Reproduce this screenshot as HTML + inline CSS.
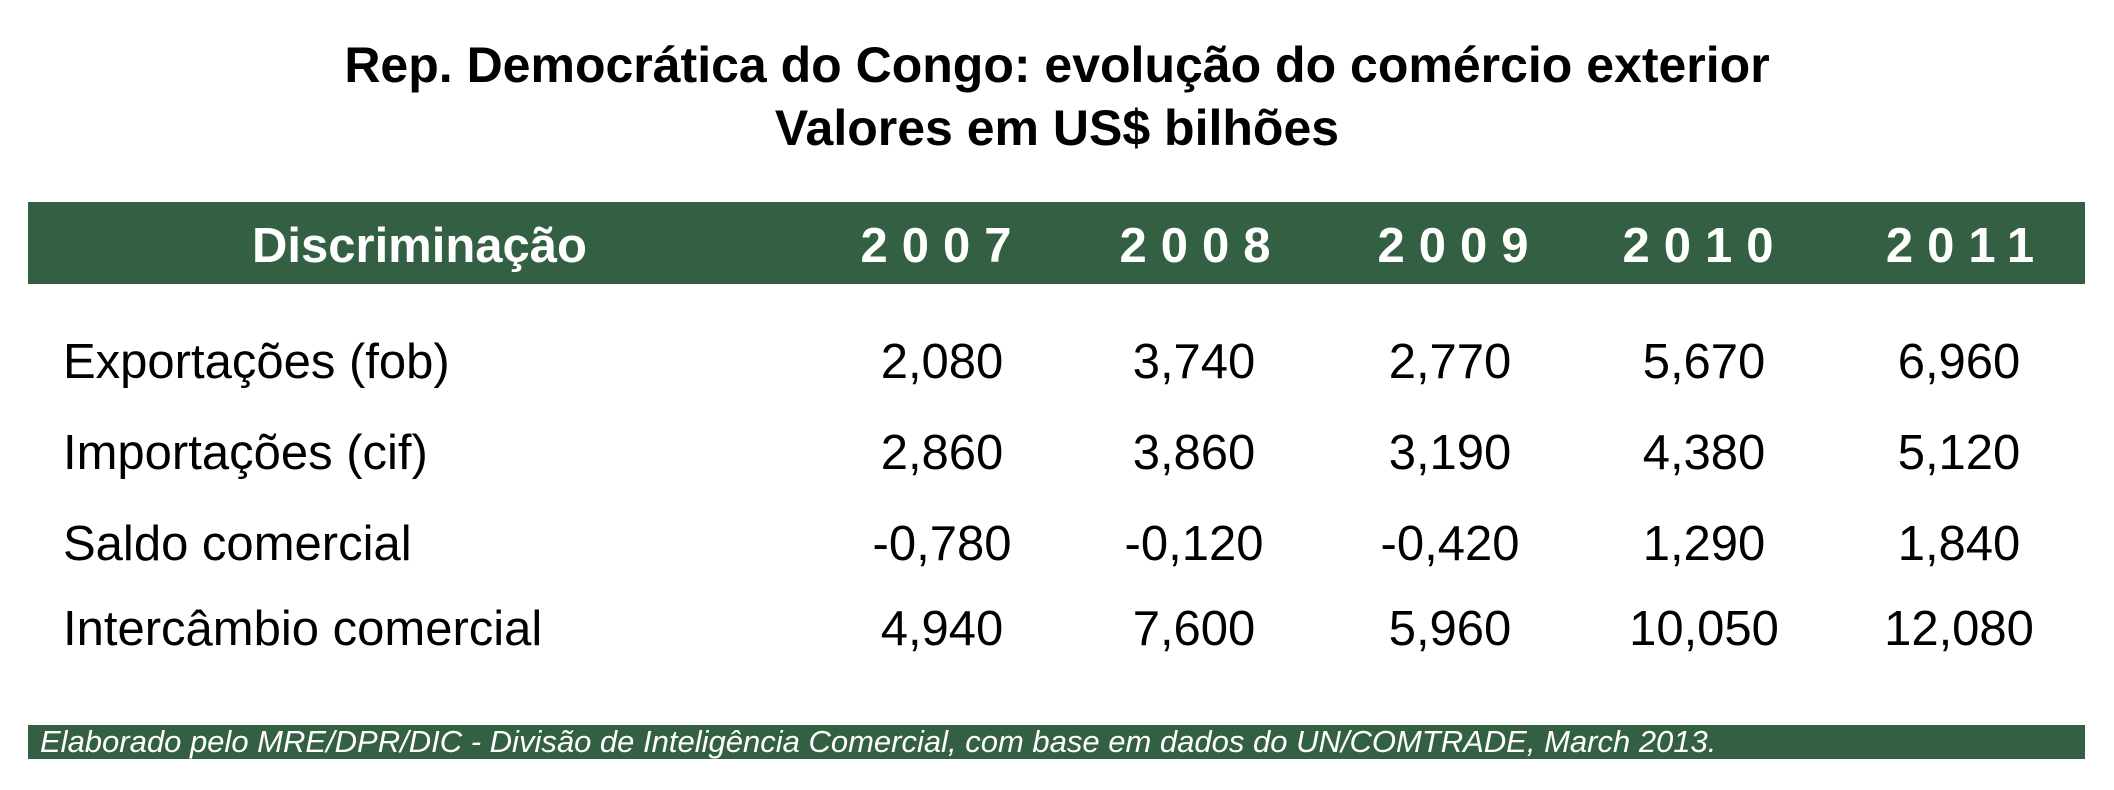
<!DOCTYPE html>
<html><head><meta charset="utf-8"><style>
body{margin:0;width:2114px;height:790px;background:#fff;position:relative;overflow:hidden;font-family:"Liberation Sans",Arial,sans-serif;}
.t{position:absolute;left:0;width:2114px;text-align:center;font-weight:bold;font-size:50px;color:#000;white-space:nowrap;line-height:1}
.bar{position:absolute;left:28px;width:2057px;background:#336043}
.h{position:absolute;color:#fff;font-weight:bold;font-size:49px;white-space:nowrap;line-height:1}
.y{letter-spacing:14px;transform:translateX(-50%);}
.l{position:absolute;left:63px;font-size:49px;line-height:1;white-space:nowrap}
.v{position:absolute;font-size:49px;line-height:1;transform:translateX(-50%);white-space:nowrap}
</style></head><body>
<div class="t" style="top:40px">Rep. Democrática do Congo: evolução do comércio exterior</div>
<div class="t" style="top:103px">Valores em US$ bilhões</div>
<div class="bar" style="top:202px;height:82px"></div>
<div class="h" style="left:252px;top:222px">Discriminação</div>
<div class="h y" style="left:943px;top:222px">2007</div>
<div class="h y" style="left:1202px;top:222px">2008</div>
<div class="h y" style="left:1460px;top:222px">2009</div>
<div class="h y" style="left:1705px;top:222px">2010</div>
<div class="h y" style="left:1967px;top:222px">2011</div>

<div class="l" style="top:338px">Exportações (fob)</div>
<div class="l" style="top:429px">Importações (cif)</div>
<div class="l" style="top:520px">Saldo comercial</div>
<div class="l" style="top:605px">Intercâmbio comercial</div>

<div class="v" style="left:942px;top:338px">2,080</div>
<div class="v" style="left:1194px;top:338px">3,740</div>
<div class="v" style="left:1450px;top:338px">2,770</div>
<div class="v" style="left:1704px;top:338px">5,670</div>
<div class="v" style="left:1959px;top:338px">6,960</div>

<div class="v" style="left:942px;top:429px">2,860</div>
<div class="v" style="left:1194px;top:429px">3,860</div>
<div class="v" style="left:1450px;top:429px">3,190</div>
<div class="v" style="left:1704px;top:429px">4,380</div>
<div class="v" style="left:1959px;top:429px">5,120</div>

<div class="v" style="left:942px;top:520px">-0,780</div>
<div class="v" style="left:1194px;top:520px">-0,120</div>
<div class="v" style="left:1450px;top:520px">-0,420</div>
<div class="v" style="left:1704px;top:520px">1,290</div>
<div class="v" style="left:1959px;top:520px">1,840</div>

<div class="v" style="left:942px;top:605px">4,940</div>
<div class="v" style="left:1194px;top:605px">7,600</div>
<div class="v" style="left:1450px;top:605px">5,960</div>
<div class="v" style="left:1704px;top:605px">10,050</div>
<div class="v" style="left:1959px;top:605px">12,080</div>

<div class="bar" style="top:725px;height:34px"></div>
<div style="position:absolute;left:40px;top:727px;color:#fff;font-style:italic;font-size:31px;line-height:30px;white-space:nowrap">Elaborado pelo MRE/DPR/DIC - Divisão de Inteligência Comercial, com base em dados do UN/COMTRADE, March 2013.</div>
</body></html>
